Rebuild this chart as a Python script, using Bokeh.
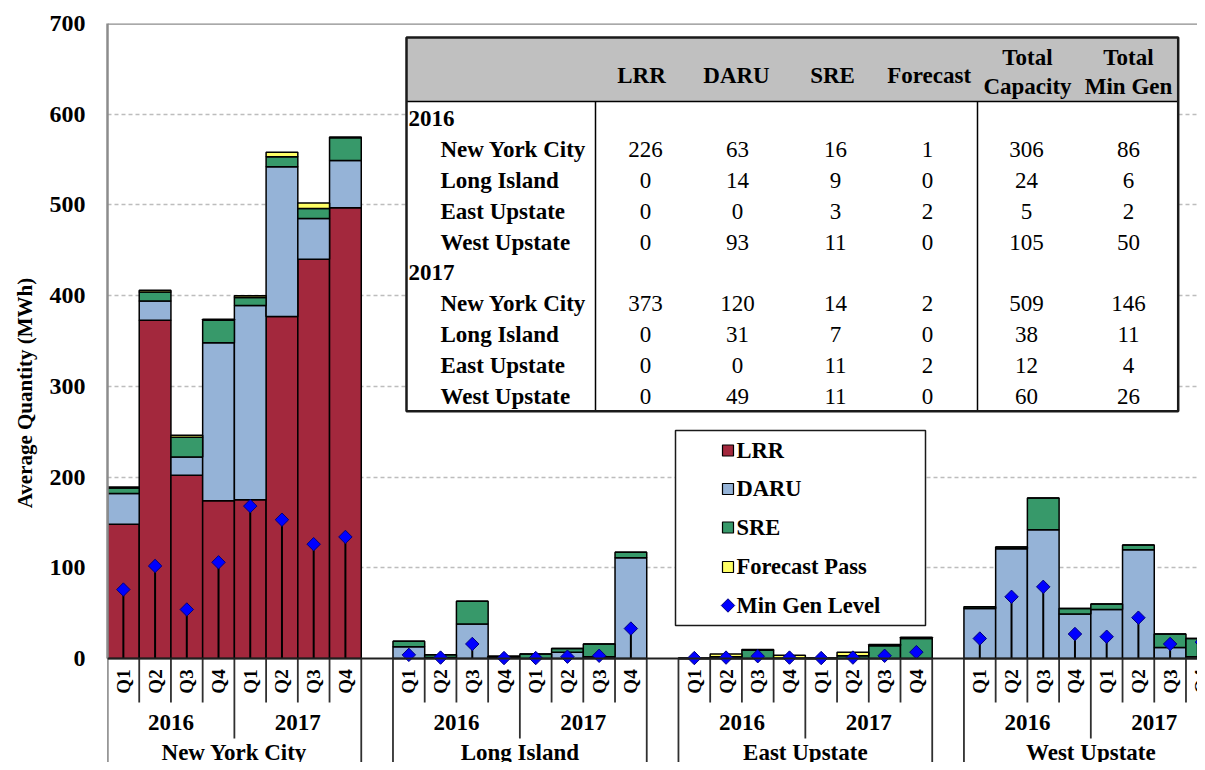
import numpy as np
from bokeh.plotting import figure
from bokeh.models import ColumnDataSource, Range1d, FixedTicker, Span
from bokeh.core.properties import value
from bokeh.embed import file_html
from bokeh.resources import INLINE

# ---------------- data ----------------
regions = ["New York City", "Long Island", "East Upstate", "West Upstate"]
years = ["2016", "2017"]
quarters = ["Q1", "Q2", "Q3", "Q4"]
series_names = ["LRR", "DARU", "SRE", "Forecast Pass", "Min Gen Level"]

# order: region -> year -> quarter (8 values per region)
lrr = [148, 373, 202, 174, 175, 377, 440, 497,
       0, 0, 0, 0, 0, 0, 0, 0,
       0, 0, 0, 0, 0, 0, 0, 0,
       0, 0, 0, 0, 0, 0, 0, 0]
daru = [34, 21, 20, 174, 214, 165, 45, 52,
        13, 1, 38, 1, 0, 7, 2, 111,
        0, 0, 0, 0, 0, 0, 0, 0,
        55, 121, 142, 49, 54, 120, 12, 2]
sre = [6, 10, 22, 25, 9, 11, 11, 25,
       6, 3, 25, 1.5, 5, 4, 14, 6,
       0, 2, 9, 0.5, 0, 3, 14, 22,
       2, 2, 35, 6, 6, 5, 15, 20]
forecast = [1, 2, 2, 1, 2, 5, 6, 1,
            0, 0, 0, 0, 0, 0, 0, 0,
            0.5, 3, 1, 3, 0.5, 4, 1.5, 1.5,
            0, 0, 0, 0, 0, 0, 0, 0]
min_gen = [76, 102, 54, 106, 168, 153, 126, 134,
           4, 1, 16, 0.5, 0.5, 2, 3, 33,
           0.5, 1, 2.5, 1, 0.5, 1, 3, 7,
           22, 68, 79, 27, 24, 45, 16, 18]

# inset table
tbl_headers = ["LRR", "DARU", "SRE", "Forecast"]
tbl_headers2 = [("Total", "Capacity"), ("Total", "Min Gen")]
tbl_years = ["2016", "2017"]
tbl_lrr = [226, 0, 0, 0, 373, 0, 0, 0]
tbl_daru = [63, 14, 0, 93, 120, 31, 0, 49]
tbl_sre = [16, 9, 3, 11, 14, 7, 11, 11]
tbl_fc = [1, 0, 2, 0, 2, 0, 2, 0]
tbl_cap = [306, 24, 5, 105, 509, 38, 12, 60]
tbl_mg = [86, 6, 2, 50, 146, 11, 4, 26]

# ---------------- styling ----------------
C_LRR, C_DARU, C_SRE, C_FC = "#A3283D", "#95B3D7", "#37996A", "#FFFF66"
C_MG, C_MG_LINE = "#0000FF", "#000080"
FONT = value("Liberation Serif")

W, H = 1197, 762
SLOT_PX = 31.72
X0_PX = 107.0
Y0_PX = 658.0
UNIT_PX = 0.9071


def X(px):
    return (px - X0_PX) / SLOT_PX


def Y(py):
    return (Y0_PX - py) / UNIT_PX


# x positions derived from the category structure (one empty slot between regions)
xs, q_lab = [], []
for r, _reg in enumerate(regions):
    for yi, _yr in enumerate(years):
        for qi, q in enumerate(quarters):
            xs.append(r * 9 + yi * 4 + qi + 0.5)
            q_lab.append(q)

src = ColumnDataSource(dict(x=xs, lrr=lrr, daru=daru, sre=sre, fc=forecast,
                            mg=min_gen, zero=[0] * len(xs), q=q_lab))

p = figure(width=W, height=H,
           x_range=Range1d(0, X(W)), y_range=Range1d(Y(H), 700),
           x_axis_location=None, toolbar_location=None, output_backend="svg",
           min_border_left=107, min_border_right=0, min_border_top=23, min_border_bottom=0)
p.outline_line_color = None
p.background_fill_color = "white"
p.border_fill_color = "white"

# y axis
p.yaxis.ticker = FixedTicker(ticks=[0, 100, 200, 300, 400, 500, 600, 700])
p.yaxis.bounds = (0, 700)
p.yaxis.axis_label = "Average Quantity (MWh)"
p.yaxis.axis_label_text_font = "Liberation Serif"
p.yaxis.axis_label_text_font_style = "bold"
p.yaxis.axis_label_text_font_size = "21px"
p.yaxis.axis_label_text_color = "black"
p.yaxis.axis_label_standoff = 10
p.yaxis.major_label_text_font = "Liberation Serif"
p.yaxis.major_label_text_font_style = "bold"
p.yaxis.major_label_text_font_size = "24px"
p.yaxis.major_label_text_color = "black"
p.yaxis.major_label_standoff = 22
p.yaxis.major_tick_out = 0
p.yaxis.major_tick_in = 0
p.yaxis.minor_tick_out = 0
p.yaxis.minor_tick_in = 0
p.yaxis.axis_line_color = "#8c8c8c"
p.yaxis.axis_line_width = 2.5

p.xgrid.visible = False
p.ygrid.ticker = FixedTicker(ticks=[100, 200, 300, 400, 500, 600])
p.ygrid.grid_line_color = "#bdbdbd"
p.ygrid.grid_line_dash = "4 3"
p.ygrid.grid_line_width = 1.5

p.add_layout(Span(location=700, dimension="width", line_color="#8c8c8c", line_width=2.5))

# stacked bars
p.vbar_stack(["lrr", "daru", "sre", "fc"], x="x", width=1.0, source=src,
             fill_color=[C_LRR, C_DARU, C_SRE, C_FC], line_color="black", line_width=1.5)

# min gen drop lines + diamonds
p.segment(x0="x", y0="zero", x1="x", y1="mg", source=src, line_color="black", line_width=2)
p.scatter(x="x", y="mg", source=src, marker="square", angle=np.pi / 4, size=9.5,
          fill_color=C_MG, line_color=C_MG_LINE, line_width=1)

# x axis line
p.add_layout(Span(location=0, dimension="width", line_color="#202020", line_width=2))

# multi-level category axis drawn in the lower part of the frame
q_bottom, y_bottom, r_bottom = Y(702), Y(738), Y(H)
sx0, sy0, sx1, sy1 = [], [], [], []
for r, _reg in enumerate(regions):
    base = r * 9
    for k in range(1, 8):
        sx0.append(base + k); sx1.append(base + k); sy0.append(0)
        sy1.append(y_bottom if k == 4 else q_bottom)
    for k in (0, 8):
        sx0.append(base + k); sx1.append(base + k); sy0.append(0); sy1.append(r_bottom)
p.segment(x0=sx0, y0=sy0, x1=sx1, y1=sy1, line_color="#303030", line_width=1.8)

p.text(x="x", y=Y(681), text="q", source=src, angle=np.pi / 2, text_align="center",
       text_baseline="middle", text_font=FONT, text_font_style="bold",
       text_font_size="19px", text_color="black")

yl_x, yl_t, rl_x = [], [], []
for r, reg in enumerate(regions):
    rl_x.append(r * 9 + 4)
    for yi, yr in enumerate(years):
        yl_x.append(r * 9 + yi * 4 + 2)
        yl_t.append(yr)
p.text(x=yl_x, y=[Y(722)] * len(yl_x), text=yl_t, text_align="center",
       text_baseline="middle", text_font=FONT, text_font_style="bold",
       text_font_size="23px", text_color="black")
p.text(x=rl_x, y=[Y(740)] * len(rl_x), text=regions, text_align="center",
       text_baseline="top", text_font=FONT, text_font_style="bold",
       text_font_size="23px", text_color="black")

# ---------------- inset table ----------------
TL, TR, TT, TB, TH = 406, 1177.7, 37, 410.7, 101
p.quad(left=X(TL), right=X(TR), top=Y(TT), bottom=Y(TB), fill_color="white", line_color=None)
p.quad(left=X(TL), right=X(TR), top=Y(TT), bottom=Y(TH), fill_color="#C0C0C0", line_color=None)
p.segment(x0=[X(TL), X(595), X(977)], y0=[Y(TH), Y(TH), Y(TH)],
          x1=[X(TR), X(595), X(977)], y1=[Y(TH), Y(TB), Y(TB)],
          line_color="black", line_width=1.5)
p.quad(left=X(TL), right=X(TR), top=Y(TT), bottom=Y(TB), fill_color=None,
       line_color="#1a1a1a", line_width=2.5)

hdr_x = [641, 736, 832, 928.6]
p.text(x=[X(v) for v in hdr_x], y=[Y(75)] * 4, text=tbl_headers, text_align="center",
       text_baseline="middle", text_font=FONT, text_font_style="bold",
       text_font_size="23px", text_color="black")
hdr2_x = [1027, 1128]
p.text(x=[X(v) for v in hdr2_x] * 2, y=[Y(57)] * 2 + [Y(86)] * 2,
       text=[h[0] for h in tbl_headers2] + [h[1] for h in tbl_headers2],
       text_align="center", text_baseline="middle", text_font=FONT,
       text_font_style="bold", text_font_size="23px", text_color="black")

row_y0, row_dy = 118, 30.9
yr_rows, reg_rows = [], []
for yi in range(2):
    yr_rows.append(Y(row_y0 + row_dy * (yi * 5)))
    for k in range(4):
        reg_rows.append(Y(row_y0 + row_dy * (yi * 5 + 1 + k)))
p.text(x=[X(408)] * 2, y=yr_rows, text=tbl_years, text_align="left", text_baseline="middle",
       text_font=FONT, text_font_style="bold", text_font_size="23px", text_color="black")
p.text(x=[X(440)] * 8, y=reg_rows, text=regions * 2, text_align="left",
       text_baseline="middle", text_font=FONT, text_font_style="bold",
       text_font_size="23px", text_color="black")
col_x = [645, 737, 835, 927, 1026, 1128]
for cx, col in zip(col_x, [tbl_lrr, tbl_daru, tbl_sre, tbl_fc, tbl_cap, tbl_mg]):
    p.text(x=[X(cx)] * 8, y=reg_rows, text=[str(v) for v in col], text_align="center",
           text_baseline="middle", text_font=FONT, text_font_size="23px", text_color="black")

# ---------------- legend ----------------
p.quad(left=X(675), right=X(925), top=Y(430), bottom=Y(625), fill_color="white",
       line_color="#1a1a1a", line_width=1.5)
leg_y = [Y(v) for v in (450, 488.5, 527, 566.5, 605)]
p.scatter(x=[X(727.5)] * 4, y=leg_y[:4], marker="square", size=11,
          fill_color=[C_LRR, C_DARU, C_SRE, C_FC], line_color="black", line_width=1.2)
p.scatter(x=[X(727.5)], y=[leg_y[4]], marker="square", angle=np.pi / 4, size=9.5,
          fill_color=C_MG, line_color=C_MG_LINE, line_width=1)
p.text(x=[X(736)] * 5, y=leg_y, text=series_names, text_align="left", text_baseline="middle",
       text_font=FONT, text_font_style="bold", text_font_size="22.5px", text_color="black")

open("out.html", "w").write(file_html(p, INLINE))
